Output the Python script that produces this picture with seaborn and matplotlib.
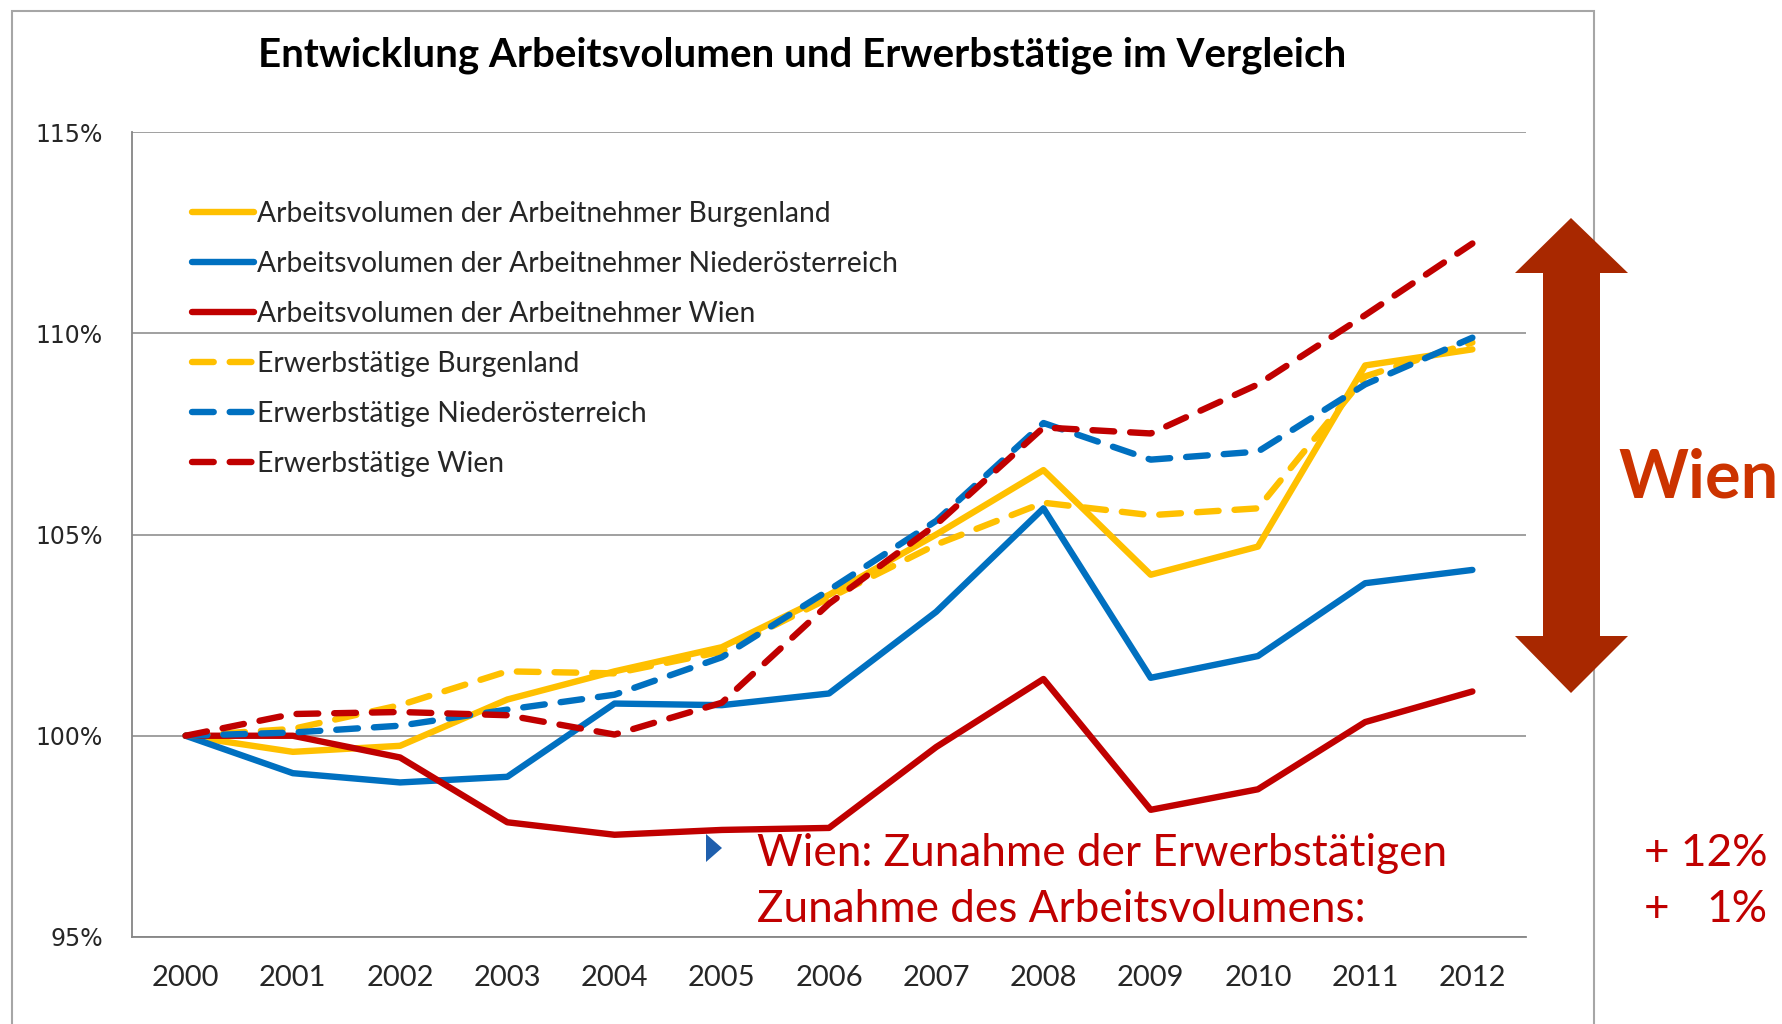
import numpy as np
import pandas as pd
import matplotlib
matplotlib.use("Agg")
import matplotlib.pyplot as plt
import seaborn as sns
from matplotlib.patches import Polygon, Rectangle
from matplotlib.ticker import FuncFormatter, FixedLocator

years = list(range(2000, 2013))

av_burgenland = [100.0, 99.6, 99.75, 100.9, 101.6, 102.2, 103.5, 105.0, 106.6, 104.0, 104.7, 109.2, 109.6]
av_noe = [100.0, 99.07, 98.84, 98.98, 100.8, 100.76, 101.05, 103.08, 105.65, 101.44, 101.98, 103.79, 104.12]
av_wien = [100.0, 100.0, 99.46, 97.85, 97.54, 97.66, 97.71, 99.72, 101.41, 98.16, 98.67, 100.34, 101.1]
et_burgenland = [100.0, 100.17, 100.76, 101.6, 101.55, 102.09, 103.42, 104.75, 105.79, 105.48, 105.65, 108.93, 109.77]
et_noe = [100.0, 100.08, 100.25, 100.65, 101.02, 101.95, 103.62, 105.34, 107.77, 106.86, 107.06, 108.73, 109.89]
et_wien = [100.0, 100.54, 100.59, 100.51, 100.03, 100.82, 103.28, 105.25, 107.66, 107.51, 108.73, 110.45, 112.23]

series_names = [
    "Arbeitsvolumen der Arbeitnehmer Burgenland",
    "Arbeitsvolumen der Arbeitnehmer Niederösterreich",
    "Arbeitsvolumen der Arbeitnehmer Wien",
    "Erwerbstätige Burgenland",
    "Erwerbstätige Niederösterreich",
    "Erwerbstätige Wien",
]
series_values = [av_burgenland, av_noe, av_wien, et_burgenland, et_noe, et_wien]
series_colors = ["#FFC000", "#0070C0", "#C00000", "#FFC000", "#0070C0", "#C00000"]
series_dashes = ["", "", "", (3.4, 2.5), (3.4, 2.5), (3.4, 2.5)]

df = pd.DataFrame({
    "Jahr": years * len(series_names),
    "Wert": [v for vals in series_values for v in vals],
    "Reihe": [n for n in series_names for _ in years],
})

W, H = 1783, 1024
sns.set_style("white")
plt.rcParams["font.family"] = ["Lato", "DejaVu Sans"]

fig = plt.figure(figsize=(W / 100, H / 100), dpi=100)
ax = fig.add_axes([132 / W, 1 - 937 / H, (1526 - 132) / W, (937 - 132) / H])

sns.lineplot(data=df, x="Jahr", y="Wert", hue="Reihe", style="Reihe",
             hue_order=series_names, style_order=series_names,
             palette=dict(zip(series_names, series_colors)),
             dashes=dict(zip(series_names, series_dashes)),
             linewidth=4.6, dash_capstyle="round", solid_capstyle="round",
             ax=ax)

ax.set_xlim(1999.5, 2012.5)
ax.set_ylim(95, 115)
ax.set_yticks([95, 100, 105, 110, 115])
ax.yaxis.set_major_formatter(FuncFormatter(lambda v, p: f"{v:.0f}%"))
ax.set_xticks(years)
ax.set_xticklabels([str(y) for y in years], fontsize=21)
ax.xaxis.set_minor_locator(FixedLocator(np.arange(1999.5, 2013, 1)))
ax.tick_params(axis="x", which="major", length=0, pad=20)
ax.tick_params(axis="x", which="minor", length=9, width=1.3, color="#868686", direction="out")
ax.tick_params(axis="y", length=8, width=1.3, color="#868686", direction="out", pad=13)
for lab in ax.get_yticklabels():
    lab.set_fontfamily("DejaVu Sans")
    lab.set_fontsize(17)
ax.set_xlabel("")
ax.set_ylabel("")
ax.grid(axis="y", color="#A0A0A0", linewidth=1.4)
ax.set_axisbelow(True)
for side in ["top", "right"]:
    ax.spines[side].set_visible(False)
for side in ["left", "bottom"]:
    ax.spines[side].set_color("#868686")
    ax.spines[side].set_linewidth(1.3)

leg = ax.legend(loc="upper left", bbox_to_anchor=(192 / W, 1 - 201 / H),
                bbox_transform=fig.transFigure, frameon=False, fontsize=20.3,
                handlelength=2.2, handletextpad=0.12, labelspacing=0.85,
                borderpad=0, borderaxespad=0)

fig.text(802 / W, 1 - 55 / H, "Entwicklung Arbeitsvolumen und Erwerbstätige im Vergleich",
         ha="center", va="center", fontsize=29, fontweight="bold", color="black")

# Rahmen
fig.add_artist(Rectangle((12 / W, -0.05), (1594 - 12) / W, 1.05 - 11 / H,
                         transform=fig.transFigure, fill=False,
                         edgecolor="#A6A6A6", linewidth=1.5))

# Doppelpfeil
arrow_px = [(1571, 218), (1628, 273), (1600, 273), (1600, 636), (1628, 636),
            (1571, 693), (1515, 636), (1543, 636), (1543, 273), (1515, 273)]
fig.add_artist(Polygon([(x / W, 1 - y / H) for x, y in arrow_px], closed=True,
                       transform=fig.transFigure, facecolor="#A82800",
                       edgecolor="none"))
fig.text(1618 / W, 1 - 478 / H, "Wien", ha="left", va="center",
         fontsize=48, fontweight="bold", color="#CC3300")

# Anmerkung
tri_px = [(706, 834), (706, 862), (722, 848)]
fig.add_artist(Polygon([(x / W, 1 - y / H) for x, y in tri_px], closed=True,
                       transform=fig.transFigure, facecolor="#1F5FAD",
                       edgecolor="none"))
fig.text(757 / W, 1 - 853 / H, "Wien: Zunahme der Erwerbstätigen", ha="left",
         va="center", fontsize=31.8, color="#C00000")
fig.text(757 / W, 1 - 910 / H, "Zunahme des Arbeitsvolumens:", ha="left",
         va="center", fontsize=31.8, color="#C00000")
fig.text(1644 / W, 1 - 853 / H, "+ 12%", ha="left", va="center",
         fontsize=31.8, color="#C00000")
fig.text(1644 / W, 1 - 910 / H, "+", ha="left", va="center",
         fontsize=31.8, color="#C00000")
fig.text(1768 / W, 1 - 910 / H, "1%", ha="right", va="center",
         fontsize=31.8, color="#C00000")

fig.savefig("out.png", dpi=100)
